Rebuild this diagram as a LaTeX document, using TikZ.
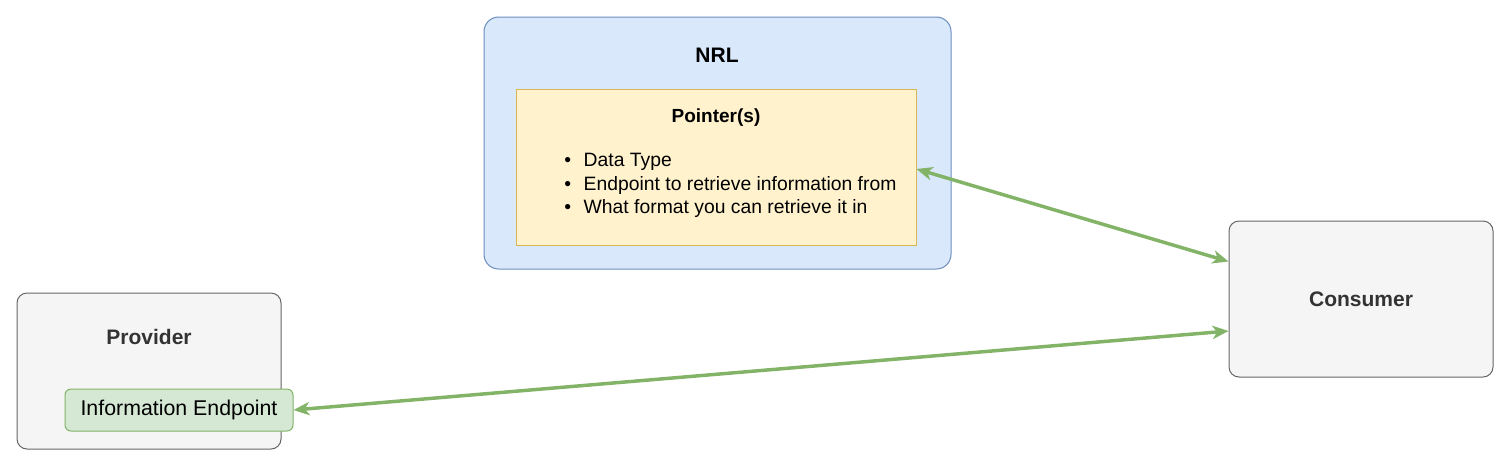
\documentclass[tikz,border=0pt]{standalone}
\usepackage{fontspec}
\setmainfont{Liberation Sans}
\usetikzlibrary{arrows.meta}
\definecolor{nrlfill}{HTML}{DAE8FC}
\definecolor{nrlline}{HTML}{6C8EBF}
\definecolor{ptrfill}{HTML}{FFF2CC}
\definecolor{ptrline}{HTML}{D6B656}
\definecolor{grayfill}{HTML}{F5F5F5}
\definecolor{grayline}{HTML}{666666}
\definecolor{graytext}{HTML}{333333}
\definecolor{grnfill}{HTML}{D5E8D4}
\definecolor{grnline}{HTML}{82B366}
\tikzset{
  box/.style={draw, line width=0.75pt, inner sep=0pt},
  nrlbox/.style={box, fill=nrlfill, draw=nrlline, rounded corners=11pt, minimum width=350.25pt, minimum height=189pt},
  ptrbox/.style={box, fill=ptrfill, draw=ptrline, minimum width=300pt, minimum height=117pt},
  actor/.style={box, fill=grayfill, draw=grayline, rounded corners=7.5pt, minimum width=198pt, minimum height=117pt, text=graytext, font=\fontsize{15.75}{18}\selectfont\bfseries},
  epbox/.style={box, fill=grnfill, draw=grnline, rounded corners=4.5pt, minimum width=171pt, minimum height=31.5pt, font=\fontsize{16}{19}\selectfont},
  title/.style={inner sep=0pt, font=\fontsize{15.75}{18}\selectfont\bfseries},
  bullet/.style={inner sep=0pt, anchor=base west, font=\fontsize{14.5}{17.6}\selectfont},
  link/.style={draw=grnline, line width=2.6pt, {Stealth[length=12pt,width=10pt,inset=3.5pt]}-{Stealth[length=12pt,width=10pt,inset=3.5pt]}}
}
\begin{document}
\begin{tikzpicture}[x=0.75pt,y=-0.75pt]
\useasboundingbox[fill=white] (0,0) rectangle (1512,469);
\node[nrlbox] (nrl) at (717.5,143) {};
\node[title] (nrltitle) at (717,55) {NRL};
\node[ptrbox] (pointer) at (716,167) {};
\node[title, font=\fontsize{14.25}{17}\selectfont\bfseries] (ptrtitle) at (716,118) {Pointer(s)};
\node[bullet] (item1) at (564,166.5) {\textbullet\hspace{9.5pt}Data Type};
\node[bullet] (item2) at (564,190) {\textbullet\hspace{9.5pt}Endpoint to retrieve information from};
\node[bullet] (item3) at (564,213.5) {\textbullet\hspace{9.5pt}What format you can retrieve it in};
\node[actor] (consumer) at (1361,299) {Consumer};
\node[actor] (provider) at (149,371) {};
\node[title, text=graytext] (provtitle) at (149,337) {Provider};
\node[epbox] (endpoint) at (179,410) {\raisebox{-1pt}{Information Endpoint}};
\draw[link] ([yshift=-1.5pt]pointer.east) -- ([yshift=-30.75pt]consumer.north west);
\draw[link] (endpoint.east) -- ([yshift=-24pt]consumer.west);
\end{tikzpicture}
\end{document}
